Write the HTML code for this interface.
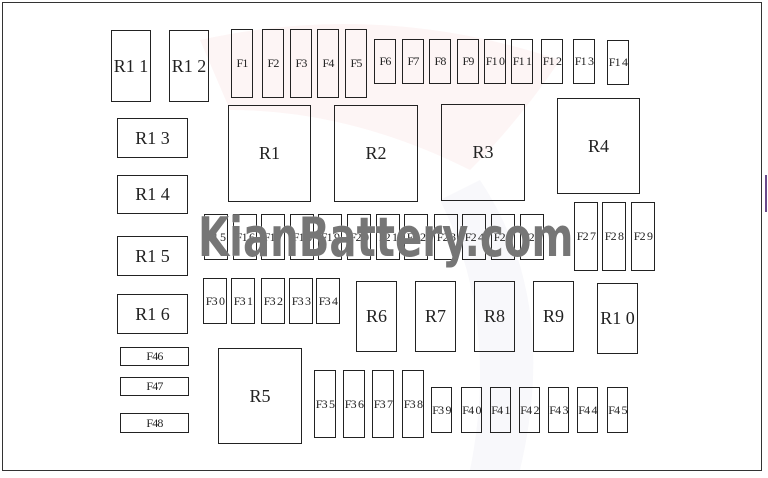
<!DOCTYPE html>
<html><head><style>
body{margin:0;width:768px;height:478px;background:#fff;position:relative;overflow:hidden;font-family:"Liberation Serif",serif;}
.b{position:absolute;border:1.5px solid #222;box-sizing:border-box;display:flex;align-items:center;justify-content:center;color:#222;background:transparent;white-space:nowrap;overflow:visible}
.r{font-size:18px}
.f{font-size:12px;letter-spacing:-0.8px}
#frame{position:absolute;left:2px;top:2px;width:760px;height:469px;border:1.5px solid #333;box-sizing:border-box}
#wm{position:absolute;left:198px;top:206px;font-family:"DejaVu Sans","Liberation Sans",sans-serif;font-weight:bold;font-size:54px;color:rgba(80,80,80,0.78);white-space:nowrap;transform-origin:0 0;transform:scaleX(0.745);text-shadow:0 0 1px #fff}
</style></head><body>
<svg style="position:absolute;left:0;top:0" width="768" height="478">
<path d="M200 40 Q380 0 560 60 Q520 120 470 170 Q350 110 230 110 Z" fill="#fdf5f5"/>
<path d="M480 180 Q560 300 520 470 L470 470 Q500 320 440 200 Z" fill="#f8f8fb"/>
<line x1="766" y1="175" x2="766" y2="212" stroke="#6a4a8a" stroke-width="2"/>
</svg>
<div id="frame"></div>
<div class="b r" style="left:111px;top:30px;width:40px;height:72px">R1 1</div>
<div class="b r" style="left:169px;top:30px;width:40px;height:72px">R1 2</div>
<div class="b f" style="left:231px;top:29px;width:22px;height:69px">F1</div>
<div class="b f" style="left:262px;top:29px;width:22px;height:69px">F2</div>
<div class="b f" style="left:290px;top:29px;width:22px;height:69px">F3</div>
<div class="b f" style="left:317px;top:29px;width:22px;height:69px">F4</div>
<div class="b f" style="left:345px;top:29px;width:22px;height:69px">F5</div>
<div class="b f" style="left:374px;top:39px;width:22px;height:45px">F6</div>
<div class="b f" style="left:402px;top:39px;width:22px;height:45px">F7</div>
<div class="b f" style="left:429px;top:39px;width:22px;height:45px">F8</div>
<div class="b f" style="left:457px;top:39px;width:22px;height:45px">F9</div>
<div class="b f" style="left:484px;top:39px;width:22px;height:45px">F1 0</div>
<div class="b f" style="left:511px;top:39px;width:22px;height:45px">F1 1</div>
<div class="b f" style="left:541px;top:39px;width:22px;height:45px">F1 2</div>
<div class="b f" style="left:573px;top:39px;width:22px;height:45px">F1 3</div>
<div class="b f" style="left:607px;top:40px;width:22px;height:45px">F1 4</div>
<div class="b r" style="left:117px;top:118px;width:71px;height:40px">R1 3</div>
<div class="b r" style="left:117px;top:175px;width:71px;height:39px">R1 4</div>
<div class="b r" style="left:228px;top:105px;width:83px;height:97px">R1</div>
<div class="b r" style="left:334px;top:105px;width:84px;height:97px">R2</div>
<div class="b r" style="left:441px;top:104px;width:84px;height:97px">R3</div>
<div class="b r" style="left:557px;top:98px;width:83px;height:96px">R4</div>
<div class="b f" style="left:204px;top:214px;width:24px;height:46px">F1 5</div>
<div class="b f" style="left:233px;top:214px;width:24px;height:46px">F1 6</div>
<div class="b f" style="left:261px;top:214px;width:24px;height:46px">F1 7</div>
<div class="b f" style="left:290px;top:214px;width:24px;height:46px">F1 8</div>
<div class="b f" style="left:318px;top:214px;width:24px;height:46px">F1 9</div>
<div class="b f" style="left:347px;top:214px;width:24px;height:46px">F2 0</div>
<div class="b f" style="left:376px;top:214px;width:24px;height:46px">F2 1</div>
<div class="b f" style="left:404px;top:214px;width:24px;height:46px">F2 2</div>
<div class="b f" style="left:434px;top:214px;width:24px;height:46px">F2 3</div>
<div class="b f" style="left:462px;top:214px;width:24px;height:46px">F2 4</div>
<div class="b f" style="left:491px;top:214px;width:24px;height:46px">F2 5</div>
<div class="b f" style="left:520px;top:214px;width:24px;height:46px">F2 6</div>
<div class="b f" style="left:574px;top:202px;width:24px;height:69px">F2 7</div>
<div class="b f" style="left:602px;top:202px;width:24px;height:69px">F2 8</div>
<div class="b f" style="left:631px;top:202px;width:24px;height:69px">F2 9</div>
<div class="b r" style="left:117px;top:236px;width:71px;height:40px">R1 5</div>
<div class="b r" style="left:117px;top:294px;width:71px;height:40px">R1 6</div>
<div class="b f" style="left:203px;top:278px;width:24px;height:46px">F3 0</div>
<div class="b f" style="left:231px;top:278px;width:24px;height:46px">F3 1</div>
<div class="b f" style="left:261px;top:278px;width:24px;height:46px">F3 2</div>
<div class="b f" style="left:289px;top:278px;width:24px;height:46px">F3 3</div>
<div class="b f" style="left:316px;top:278px;width:24px;height:46px">F3 4</div>
<div class="b r" style="left:356px;top:281px;width:41px;height:71px">R6</div>
<div class="b r" style="left:415px;top:281px;width:41px;height:71px">R7</div>
<div class="b r" style="left:474px;top:281px;width:41px;height:71px">R8</div>
<div class="b r" style="left:533px;top:281px;width:41px;height:71px">R9</div>
<div class="b r" style="left:597px;top:283px;width:41px;height:71px">R1 0</div>
<div class="b f" style="left:120px;top:347px;width:69px;height:19px">F46</div>
<div class="b f" style="left:120px;top:377px;width:69px;height:19px">F47</div>
<div class="b f" style="left:120px;top:413px;width:69px;height:20px">F48</div>
<div class="b r" style="left:218px;top:348px;width:84px;height:96px">R5</div>
<div class="b f" style="left:314px;top:370px;width:22px;height:68px">F3 5</div>
<div class="b f" style="left:343px;top:370px;width:22px;height:68px">F3 6</div>
<div class="b f" style="left:372px;top:370px;width:22px;height:68px">F3 7</div>
<div class="b f" style="left:402px;top:370px;width:22px;height:68px">F3 8</div>
<div class="b f" style="left:431px;top:387px;width:21px;height:46px">F3 9</div>
<div class="b f" style="left:461px;top:387px;width:21px;height:46px">F4 0</div>
<div class="b f" style="left:490px;top:387px;width:21px;height:46px">F4 1</div>
<div class="b f" style="left:519px;top:387px;width:21px;height:46px">F4 2</div>
<div class="b f" style="left:548px;top:387px;width:21px;height:46px">F4 3</div>
<div class="b f" style="left:577px;top:387px;width:21px;height:46px">F4 4</div>
<div class="b f" style="left:607px;top:387px;width:21px;height:46px">F4 5</div>
<div id="wm">KianBattery.com</div>
</body></html>
